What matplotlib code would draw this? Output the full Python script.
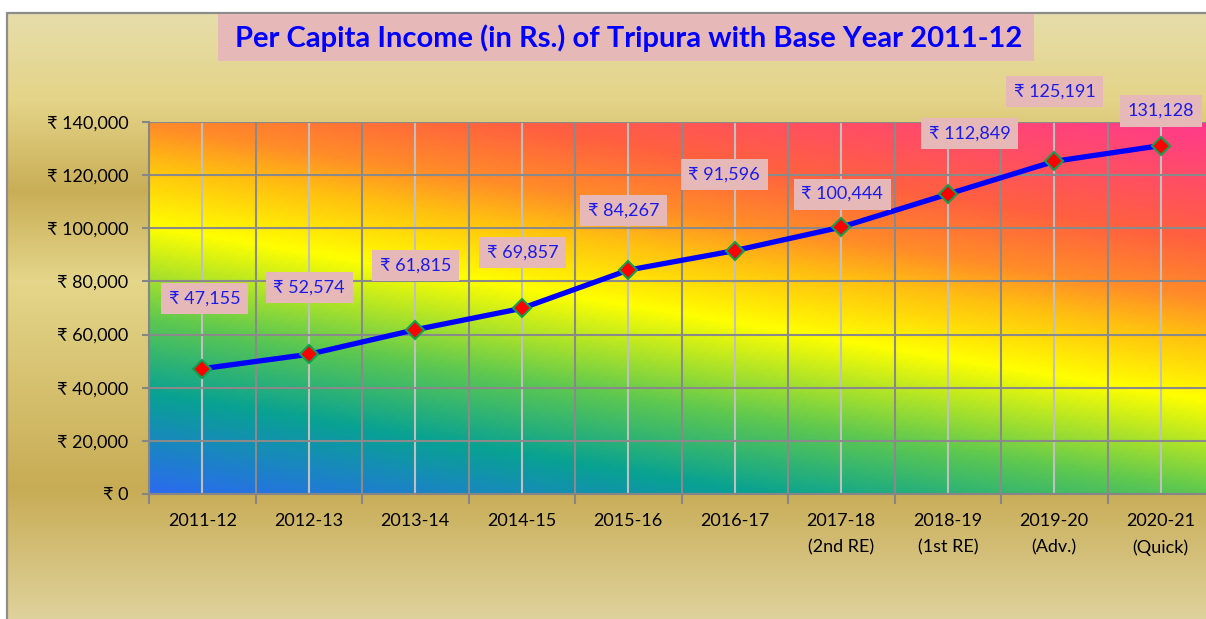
import matplotlib
matplotlib.use('Agg')
import matplotlib.pyplot as plt
import numpy as np
from matplotlib.colors import LinearSegmentedColormap, to_rgb
from matplotlib.ticker import FixedLocator

# フォント（Calibri の代わり。₹ が無い場合は DejaVu Sans へ）
plt.rcParams['font.family'] = ['Lato', 'DejaVu Sans']

# データ
years = ['2011-12', '2012-13', '2013-14', '2014-15', '2015-16', '2016-17',
         '2017-18\n(2nd RE)', '2018-19\n(1st RE)', '2019-20\n(Adv.)', '2020-21\n(Quick)']
income = [47155, 52574, 61815, 69857, 84267, 91596, 100444, 112849, 125191, 131128]
with_rupee = [True, True, True, True, True, True, True, True, True, False]
y_ticks = [0, 20000, 40000, 60000, 80000, 100000, 120000, 140000]
title = 'Per Capita Income (in Rs.) of Tripura with Base Year 2011-12'

# ラベルの位置（点からのずらし、ピクセル）
label_dx = [2.5, 0.5, 0.5, 1, -5, -10.5, 1, 22, 0.5, 0]
label_dy = [70, 66.5, 64.5, 56, 59.5, 76, 33, 61, 70, 34.5]

W, H = 1206, 619
fig = plt.figure(figsize=(W / 100, H / 100), dpi=100)

# 背景（ゴールドのグラデーション）
bg_ax = fig.add_axes([0, 0, 1, 1])
bg_ax.set_xlim(0, W)
bg_ax.set_ylim(H, 0)
bg_ax.axis('off')
stops_y = [13, 100, 190, 281, 487, 619]
stops_c = ['#E6DDAA', '#E4D488', '#C9AE57', '#E4D68A', '#C8AC55', '#DFD29C']
rows = np.arange(H)
cols = np.array([to_rgb(c) for c in stops_c])
col_grad = np.stack([np.interp(rows, stops_y, cols[:, k]) for k in range(3)], axis=1)
bg = np.ones((H, W, 3))
bg[13:, 7:, :] = col_grad[13:, None, :]
bg_ax.imshow(bg, extent=(0, W, H, 0), aspect='auto', interpolation='bilinear')
bg_ax.plot([7, 7, W], [H, 13, 13], color='#8C8C8C', lw=1.6, solid_capstyle='butt')

# タイトル
fig.patches.append(plt.Rectangle((218 / W, 1 - 61 / H), (1034 - 218) / W, 47 / H,
                                 transform=fig.transFigure, facecolor='#E6B9B8',
                                 edgecolor='none', zorder=1))
fig.text(629 / W, 1 - 38 / H, title, ha='center', va='center', fontsize=21,
         fontweight='bold', color='#0000FF', zorder=2)

# プロット領域
left, right, top, bottom = 149, 149 + 1065, 122, 494
ax = fig.add_axes([left / W, 1 - bottom / H, (right - left) / W, (bottom - top) / H])
ax.set_xlim(-0.5, 9.5)
ax.set_ylim(0, 140000)

# 虹色のグラデーション
rainbow = LinearSegmentedColormap.from_list('rainbow_fill', [
    (0.0, '#2B6BEF'), (100 / 546, '#08A292'), (175 / 546, '#5EC850'),
    (268 / 546, '#FFFF00'), (330 / 546, '#FFC010'), (370 / 546, '#FF8C28'),
    (430 / 546, '#FF6040'), (1.0, '#FF3A8C')])
u = np.linspace(0, right - left, 400)
v = np.linspace(bottom - top, 0, 200)
uu, vv = np.meshgrid(u, v)
t = np.clip((vv + 0.165 * uu) / 546, 0, 1)
ax.imshow(t, cmap=rainbow, vmin=0, vmax=1, extent=(-0.5, 9.5, 0, 140000),
          aspect='auto', interpolation='bilinear', zorder=0)

# 目盛りとグリッド
x = np.arange(len(years))
ax.set_xticks(x)
ax.set_xticklabels(years, fontsize=13, linespacing=1.75)
ax.xaxis.set_minor_locator(FixedLocator(np.arange(-0.5, 10, 1)))
ax.tick_params(axis='x', which='major', length=0, pad=14)
ax.tick_params(axis='x', which='minor', length=7, width=1.5, color='#868686')
ax.set_yticks(y_ticks)
ax.set_yticklabels([f'₹ {v:,}' for v in y_ticks], fontsize=13)
ax.tick_params(axis='y', length=5, width=1.5, color='#868686', pad=10)
ax.set_axisbelow(True)
ax.grid(True, axis='y', color='#8A8A8A', lw=1.5)
ax.grid(True, axis='x', which='major', color='#C0C0C0', lw=1.5)
ax.grid(True, axis='x', which='minor', color='#8A8A8A', lw=1.5)
for s in ['top', 'right']:
    ax.spines[s].set_visible(False)
for s in ['left', 'bottom']:
    ax.spines[s].set_color('#868686')
    ax.spines[s].set_linewidth(1.5)

# 折れ線
ax.plot(x, income, color='#0000FF', lw=3.8, marker='D', markersize=9.5,
        markerfacecolor='#FF0000', markeredgecolor='#10A050', markeredgewidth=1.5,
        zorder=3, clip_on=False)

# データラベル
for i, val in enumerate(income):
    txt = f'₹ {val:,}' if with_rupee[i] else f'{val:,}'
    ax.annotate(txt, (x[i], val), xytext=(label_dx[i], label_dy[i]),
                textcoords='offset pixels', ha='center', va='center',
                fontsize=13, color='#1A1AF0', zorder=4, annotation_clip=False,
                bbox=dict(boxstyle='square,pad=0.42', facecolor='#E6B9B8',
                          edgecolor='none'))

fig.savefig('out.png', dpi=100)
